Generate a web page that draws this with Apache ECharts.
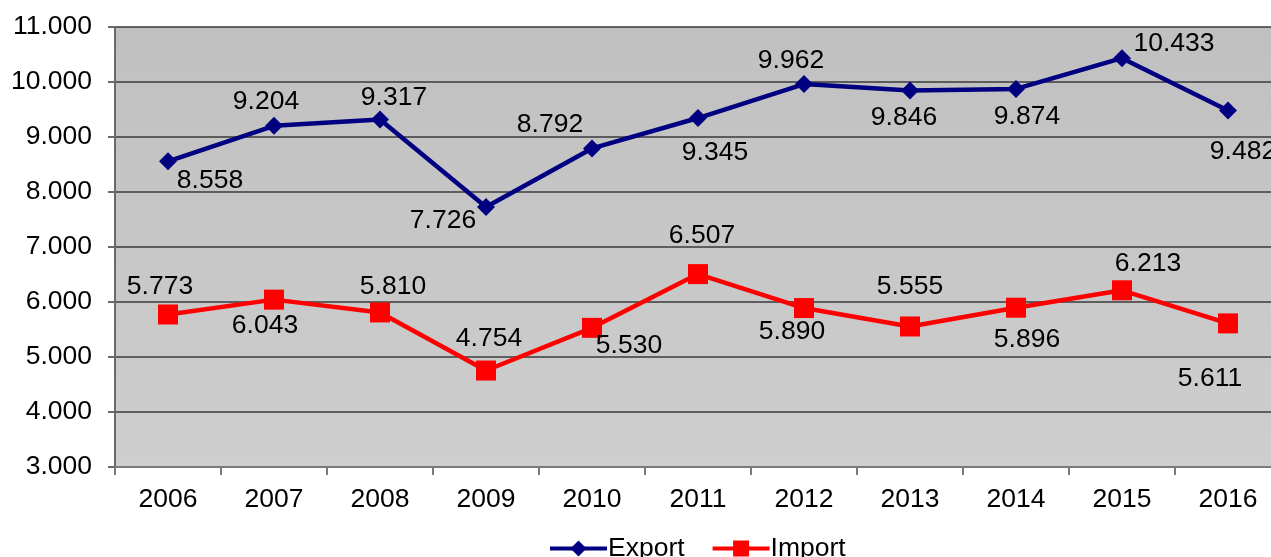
<!DOCTYPE html>
<html>
<head>
<meta charset="utf-8">
<script src="https://cdn.jsdelivr.net/npm/echarts@6/dist/echarts.min.js"></script>
<style>
  html, body { margin: 0; padding: 0; background: #ffffff; }
  #chart { width: 1271px; height: 557px; }
</style>
</head>
<body>
<div id="chart"></div>
<script>
// Years on the category axis
const years = ['2006', '2007', '2008', '2009', '2010', '2011', '2012', '2013', '2014', '2015', '2016'];

// Series values (thousands)
const exportValues = [8.558, 9.204, 9.317, 7.726, 8.792, 9.345, 9.962, 9.846, 9.874, 10.433, 9.482];
const importValues = [5.773, 6.043, 5.810, 4.754, 5.530, 6.507, 5.890, 5.555, 5.896, 6.213, 5.611];

// Value axis range
const yMin = 3;
const yMax = 11;
const yStep = 1;

// Where each value label sits relative to its point (px)
const exportLabelOffsets = [[42, 19], [-8, -24], [14, -22], [-43, 14], [-42, -24], [17, 35], [-13, -23], [-6, 27], [11, 28], [52, -14], [15, 41]];
const importLabelOffsets = [[-8, -28], [-9, 26], [13, -26], [3, -32], [37, 18], [4, -38], [-12, 24], [0, -40], [11, 32], [26, -27], [-18, 55]];

const FONT = '"Liberation Sans", Arial, sans-serif';
const FS = 26.5;
const fmt = v => v.toFixed(3);

function withLabels(values, offsets) {
  return values.map((v, i) => ({
    value: v,
    label: { offset: offsets[i] }
  }));
}

const chart = echarts.init(document.getElementById('chart'), null, { renderer: 'canvas' });

chart.setOption({
  animation: false,
  backgroundColor: '#ffffff',
  textStyle: { fontFamily: FONT },
  grid: {
    left: 115,
    top: 27,
    width: 1166,
    height: 440,
    outerBoundsMode: 'none',
    containLabel: false,
    show: true,
    borderWidth: 0,
    backgroundColor: new echarts.graphic.LinearGradient(0, 0, 0, 1, [
      { offset: 0, color: '#c0c0c0' },
      { offset: 1, color: '#cecece' }
    ])
  },
  legend: {
    left: 543,
    top: 530,
    itemWidth: 57,
    itemHeight: 20,
    itemGap: 26,
    lineStyle: { width: 4 },
    textStyle: { fontFamily: FONT, fontSize: FS, color: '#000000', padding: [0, 0, 0, -4] },
    data: ['Export', 'Import']
  },
  xAxis: {
    type: 'category',
    data: years,
    boundaryGap: true,
    axisLine: { show: true, lineStyle: { color: '#7a7a7a', width: 2 } },
    axisTick: { show: true, length: 8, inside: false, lineStyle: { color: '#7a7a7a', width: 2 } },
    axisLabel: { fontFamily: FONT, fontSize: FS, color: '#000000', margin: 19 },
    splitLine: { show: false }
  },
  yAxis: {
    type: 'value',
    min: yMin,
    max: yMax,
    interval: yStep,
    axisLine: { show: true, lineStyle: { color: '#6a6a6a', width: 2 } },
    axisTick: { show: true, length: 7, lineStyle: { color: '#6a6a6a', width: 2 } },
    axisLabel: {
      fontFamily: FONT, fontSize: FS, color: '#000000', margin: 23,
      formatter: v => fmt(v)
    },
    splitLine: { show: true, lineStyle: { color: '#3a3a3a', width: 1.5 } }
  },
  series: [
    {
      name: 'Export',
      type: 'line',
      data: withLabels(exportValues, exportLabelOffsets),
      symbol: 'diamond',
      symbolSize: 18,
      lineStyle: { color: '#000080', width: 4.5 },
      itemStyle: { color: '#000080' },
      label: {
        show: true,
        position: 'inside',
        fontFamily: FONT,
        fontSize: FS,
        color: '#000000',
        formatter: p => fmt(p.value)
      },
      z: 3
    },
    {
      name: 'Import',
      type: 'line',
      data: withLabels(importValues, importLabelOffsets),
      symbol: 'rect',
      symbolSize: 20,
      lineStyle: { color: '#ff0000', width: 4.5 },
      itemStyle: { color: '#ff0000' },
      label: {
        show: true,
        position: 'inside',
        fontFamily: FONT,
        fontSize: FS,
        color: '#000000',
        formatter: p => fmt(p.value)
      },
      z: 3
    }
  ]
});
</script>
</body>
</html>
